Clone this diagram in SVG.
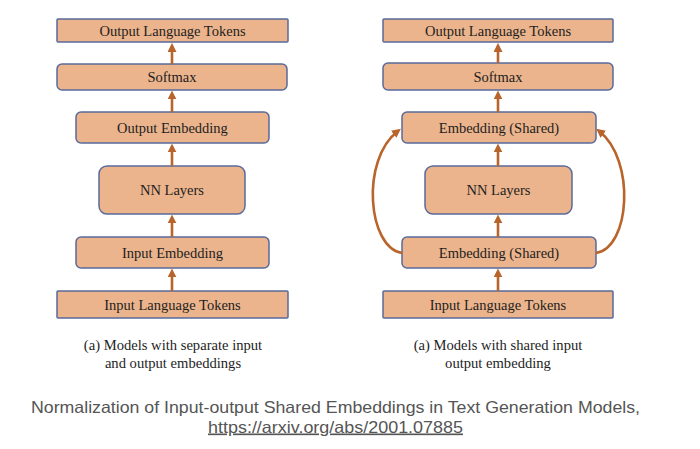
<svg xmlns="http://www.w3.org/2000/svg" width="700" height="449" viewBox="0 0 700 449">
<style>
.box{fill:#EBB48C;stroke:#5A6A9A;stroke-width:1.5}
.lbl{font-family:"Liberation Serif","Times New Roman",serif;font-size:14.5px;fill:#1e1e1e;text-anchor:middle}
.cap{font-family:"Liberation Serif","Times New Roman",serif;font-size:14.6px;fill:#1e1e1e;text-anchor:middle}
.conn{stroke:#B8642A;stroke-width:2.6;fill:none;marker-end:url(#ah)}
.foot{font-family:"Liberation Sans",Arial,sans-serif;font-size:16.5px;fill:#555;text-anchor:middle}
</style>
<defs>
<marker id="ah" viewBox="0 0 10 10" refX="6" refY="5" markerWidth="9" markerHeight="9" markerUnits="userSpaceOnUse" orient="auto">
<path d="M0,0 L10,5 L0,10 z" fill="#B8642A"/>
</marker>
</defs>
<rect width="700" height="449" fill="#fff"/>
<g id="L-out-tokens"><rect class="box" x="57" y="19" width="231" height="23" rx="1"/><text class="lbl" x="172.5" y="35.5">Output Language Tokens</text></g>
<g id="L-softmax"><rect class="box" x="57" y="64" width="230" height="26" rx="5"/><text class="lbl" x="172" y="82">Softmax</text></g>
<g id="L-out-emb"><rect class="box" x="76" y="112" width="193" height="31" rx="5"/><text class="lbl" x="172.5" y="132.5">Output Embedding</text></g>
<g id="L-nn"><rect class="box" x="99" y="166" width="146" height="48" rx="8"/><text class="lbl" x="172" y="195">NN Layers</text></g>
<g id="L-in-emb"><rect class="box" x="76" y="237" width="193" height="31" rx="5"/><text class="lbl" x="172.5" y="257.5">Input Embedding</text></g>
<g id="L-in-tokens"><rect class="box" x="57" y="291" width="231" height="27" rx="1"/><text class="lbl" x="172.5" y="309.5">Input Language Tokens</text></g>
<g id="R-out-tokens"><rect class="box" x="383" y="19" width="230" height="23" rx="1"/><text class="lbl" x="498" y="35.5">Output Language Tokens</text></g>
<g id="R-softmax"><rect class="box" x="383" y="63" width="230" height="27" rx="5"/><text class="lbl" x="498" y="81.5">Softmax</text></g>
<g id="R-emb-top"><rect class="box" x="402" y="112" width="194" height="31" rx="5"/><text class="lbl" x="499" y="132.5">Embedding (Shared)</text></g>
<g id="R-nn"><rect class="box" x="425" y="166" width="147" height="48" rx="8"/><text class="lbl" x="498.5" y="195">NN Layers</text></g>
<g id="R-emb-bot"><rect class="box" x="402" y="237" width="194" height="31" rx="5"/><text class="lbl" x="499" y="257.5">Embedding (Shared)</text></g>
<g id="R-in-tokens"><rect class="box" x="383" y="291" width="230" height="27" rx="1"/><text class="lbl" x="498" y="309.5">Input Language Tokens</text></g>
<g id="connectors">
<path class="conn" d="M172,64 V46.5"/>
<path class="conn" d="M172,112 V94"/>
<path class="conn" d="M172,166 V147"/>
<path class="conn" d="M172,237 V218"/>
<path class="conn" d="M172,291 V272"/>
<path class="conn" d="M498,63 V46.5"/>
<path class="conn" d="M498,112 V94"/>
<path class="conn" d="M498,166 V147"/>
<path class="conn" d="M498,237 V218"/>
<path class="conn" d="M498,291 V272"/>
<path class="conn" d="M402,253 C368,248 360,160 398,131"/>
<path class="conn" d="M596,253 C630,248 636,160 599,131"/>
</g>
<text class="cap" x="173" y="350">(a) Models with separate input</text>
<text class="cap" x="173" y="368">and output embeddings</text>
<text class="cap" x="498" y="350">(a) Models with shared input</text>
<text class="cap" x="498" y="368">output embedding</text>
<text class="foot" x="335.5" y="413" textLength="609" lengthAdjust="spacingAndGlyphs">Normalization of Input-output Shared Embeddings in Text Generation Models,</text>
<text class="foot" x="335.5" y="432.5" textLength="255" lengthAdjust="spacingAndGlyphs" text-decoration="underline">https://arxiv.org/abs/2001.07885</text>
</svg>
